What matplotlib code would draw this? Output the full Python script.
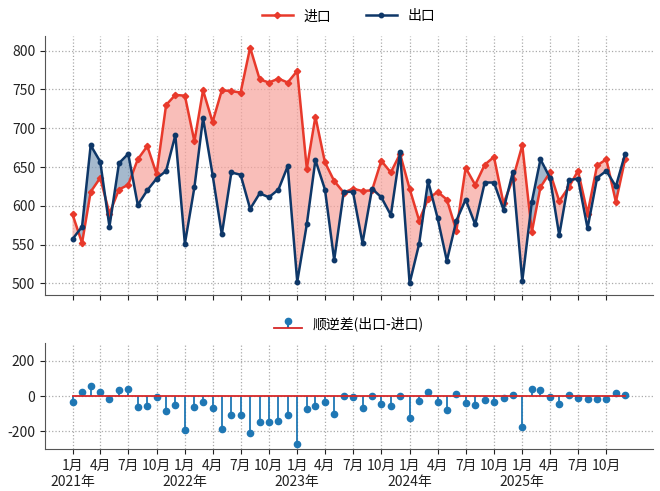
import numpy as np
import pandas as pd
import matplotlib
matplotlib.use("Agg")
import matplotlib.pyplot as plt
import matplotlib.dates as mdates

plt.rcParams['font.family'] = ['Noto Sans CJK SC', 'DejaVu Sans']
plt.rcParams['axes.unicode_minus'] = False

# monthly data, Jan 2021 - Dec 2025
months = pd.date_range("2021-01-01", "2025-12-01", freq="MS")

imports = [589, 552, 618, 636, 590, 621, 627, 660, 677, 641, 730, 743,
           742, 683, 749, 708, 749, 748, 746, 804, 763, 759, 764, 759,
           774, 648, 715, 656, 632, 617, 622, 619, 620, 658, 643, 667,
           622, 581, 609, 618, 608, 568, 649, 627, 653, 663, 603, 634,
           678, 566, 624, 643, 606, 624, 645, 590, 652, 660, 605, 660]

exports = [557, 573, 678, 657, 573, 655, 667, 601, 620, 635, 645, 691,
           551, 624, 713, 640, 563, 643, 640, 596, 616, 611, 621, 651,
           502, 576, 659, 621, 530, 618, 618, 552, 622, 611, 588, 669,
           500, 551, 632, 584, 529, 581, 608, 576, 630, 630, 595, 643,
           503, 605, 660, 636, 562, 633, 635, 571, 636, 645, 625, 667]

imp = np.array(imports)
exp_ = np.array(exports)
balance = exp_ - imp

red = '#e8392b'
navy = '#0e3768'

fig = plt.figure(figsize=(6.6, 4.91), dpi=100)
ax1 = fig.add_axes([0.068, 0.399, 0.921, 0.528])
ax2 = fig.add_axes([0.068, 0.0855, 0.921, 0.2155], sharex=ax1)

# top panel: import / export lines with filled gap
ax1.fill_between(months, exp_, imp, where=exp_ >= imp, interpolate=True,
                 color='#7f9cb9', alpha=0.7, linewidth=0)
ax1.fill_between(months, exp_, imp, where=exp_ < imp, interpolate=True,
                 color='#f7a39c', alpha=0.7, linewidth=0)
ax1.plot(months, imp, color=red, lw=1.8, marker='D', ms=3.2, label='进口')
ax1.plot(months, exp_, color=navy, lw=1.8, marker='o', ms=3.2, label='出口')

ax1.set_yticks([500, 550, 600, 650, 700, 750, 800])
ax1.legend(loc='lower center', bbox_to_anchor=(0.5, 1.0), ncol=2,
           frameon=False, fontsize=10, handlelength=2.2, columnspacing=2.5)

# bottom panel: trade balance stems
markerline, stemlines, baseline = ax2.stem(months, balance, label='顺逆差(出口-进口)')
markerline.set_markersize(4.5)
stemlines.set_linewidth(1.3)
baseline.set_linewidth(1.3)
ax2.set_ylim(-300, 300)
ax2.set_yticks([-200, 0, 200])
ax2.legend(loc='lower center', bbox_to_anchor=(0.5, 1.0), frameon=False,
           fontsize=10)

# quarterly ticks, only inside the data range
tick_months = months[::3]
tick_labels = [f"{d.month}月\n{d.year}年" if d.month == 1 else f"{d.month}月"
               for d in tick_months]
ax2.set_xticks(tick_months)
ax2.set_xticklabels(tick_labels)
plt.setp(ax1.get_xticklabels(), visible=False)

for ax in (ax1, ax2):
    ax.grid(True, linestyle=':', color='#aaaaaa', linewidth=0.9)
    ax.set_axisbelow(True)
    ax.spines['top'].set_visible(False)
    ax.spines['right'].set_visible(False)
    ax.spines['left'].set_color('#555555')
    ax.spines['bottom'].set_color('#555555')
    ax.tick_params(labelsize=10, colors='#222222')

fig.savefig("out.png", dpi=100)
